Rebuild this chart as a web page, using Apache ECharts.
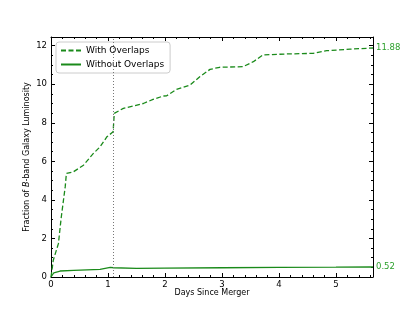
<!DOCTYPE html>
<html><head><meta charset="utf-8">
<script src="https://cdn.jsdelivr.net/npm/echarts@6/dist/echarts.min.js"></script>
<style>html,body{margin:0;padding:0;background:#fff}#c{width:415px;height:311px}</style>
</head><body><div id="c"></div>
<script>
const withX = [0, 0.04, 0.13, 0.18, 0.25, 0.27, 0.39, 0.57, 0.74, 0.86, 0.98, 1.09, 1.11, 1.27, 1.44, 1.62, 1.79, 1.97, 2.03, 2.2, 2.44, 2.61, 2.79, 2.96, 3.37, 3.55, 3.72, 4.13, 4.6, 4.84, 5.25, 5.65];
const withY = [0, 0.87, 1.73, 3.1, 4.7, 5.37, 5.45, 5.8, 6.4, 6.75, 7.27, 7.53, 8.49, 8.75, 8.87, 9.0, 9.21, 9.39, 9.4, 9.73, 9.96, 10.39, 10.77, 10.88, 10.91, 11.17, 11.52, 11.57, 11.6, 11.74, 11.82, 11.88];
const withoutX = [0, 0.05, 0.16, 0.4, 0.86, 0.95, 1.04, 1.1, 1.11, 1.5, 2.0, 3.0, 4.0, 5.0, 5.65];
const withoutY = [0, 0.22, 0.31, 0.34, 0.4, 0.45, 0.5, 0.48, 0.43, 0.45, 0.46, 0.48, 0.5, 0.51, 0.52];
const endLabels = ['11.88', '0.52'];
const mergerDay = 1.1;
const seriesNames = ['With Overlaps', 'Without Overlaps'];

const lineColor = '#1a8a1a';
const labelColor = '#2ca02c';
const font = 'DejaVu Sans';
const pair = (xs, ys) => xs.map((x, i) => [x, ys[i]]);

function axisStyle(minorSplit) {
  return {
    axisLine: {show: true, onZero: false, lineStyle: {color: '#000', width: 1}},
    axisTick: {show: true, inside: true, length: 4, lineStyle: {color: '#000'}},
    minorTick: {show: true, splitNumber: minorSplit, length: 2, lineStyle: {color: '#000'}},
    splitLine: {show: false}
  };
}

const chart = echarts.init(document.getElementById('c'));
chart.setOption({
  animation: false,
  backgroundColor: '#fff',
  textStyle: {fontFamily: font},
  grid: {left: 51, right: 42, top: 37, bottom: 34},
  legend: {
    left: 56, top: 42, orient: 'vertical',
    itemWidth: 20, itemHeight: 8, itemGap: 5,
    padding: [4, 6, 4, 4],
    borderColor: '#ccc', borderWidth: 1, borderRadius: 3,
    itemStyle: {color: 'rgba(0,0,0,0)', borderWidth: 0, opacity: 0},
    textStyle: {fontFamily: font, fontSize: 9, color: '#000'},
    data: seriesNames
  },
  xAxis: [
    Object.assign({
      type: 'value', min: 0, max: 5.65, interval: 1,
      name: 'Days Since Merger', nameLocation: 'middle', nameGap: 12, nameMoveOverlap: false,
      nameTextStyle: {fontFamily: font, fontSize: 8, color: '#000'},
      axisLabel: {fontFamily: font, fontSize: 8.5, color: '#000', margin: 3, showMaxLabel: false}
    }, axisStyle(5)),
    Object.assign({
      type: 'value', min: 0, max: 5.65, interval: 1, position: 'top',
      axisLabel: {show: false}
    }, axisStyle(5))
  ],
  yAxis: [
    Object.assign({
      type: 'value', min: 0, max: 12.45, interval: 2,
      name: '{n|Fraction of }{i|B}{n|-band Galaxy Luminosity}', nameLocation: 'middle', nameGap: 20, nameMoveOverlap: false,
      nameTextStyle: {fontFamily: font, fontSize: 8, color: '#000',
        rich: {n: {fontFamily: font, fontSize: 8, color: '#000'}, i: {fontFamily: font, fontSize: 8, color: '#000', fontStyle: 'italic'}}},
      axisLabel: {fontFamily: font, fontSize: 8.5, color: '#000', margin: 4, showMaxLabel: false}
    }, axisStyle(4)),
    Object.assign({
      type: 'value', min: 0, max: 12.45, interval: 2, position: 'right',
      axisLabel: {show: false}
    }, axisStyle(4))
  ],
  series: [
    {
      name: seriesNames[0], type: 'line', data: pair(withX, withY),
      showSymbol: false, symbol: 'none',
      lineStyle: {color: lineColor, width: 1.3, type: [5, 2.5]},
      itemStyle: {color: lineColor},
      endLabel: {show: true, formatter: endLabels[0], color: labelColor, fontFamily: font, fontSize: 8.5, distance: 3},
      markLine: {
        silent: true, symbol: 'none', label: {show: false},
        lineStyle: {color: '#777', type: [1, 2], width: 1},
        data: [{xAxis: mergerDay}]
      }
    },
    {
      name: seriesNames[1], type: 'line', data: pair(withoutX, withoutY),
      showSymbol: false, symbol: 'none',
      lineStyle: {color: lineColor, width: 1.3},
      itemStyle: {color: lineColor},
      endLabel: {show: true, formatter: endLabels[1], color: labelColor, fontFamily: font, fontSize: 8.5, distance: 3}
    }
  ]
});
</script></body></html>
